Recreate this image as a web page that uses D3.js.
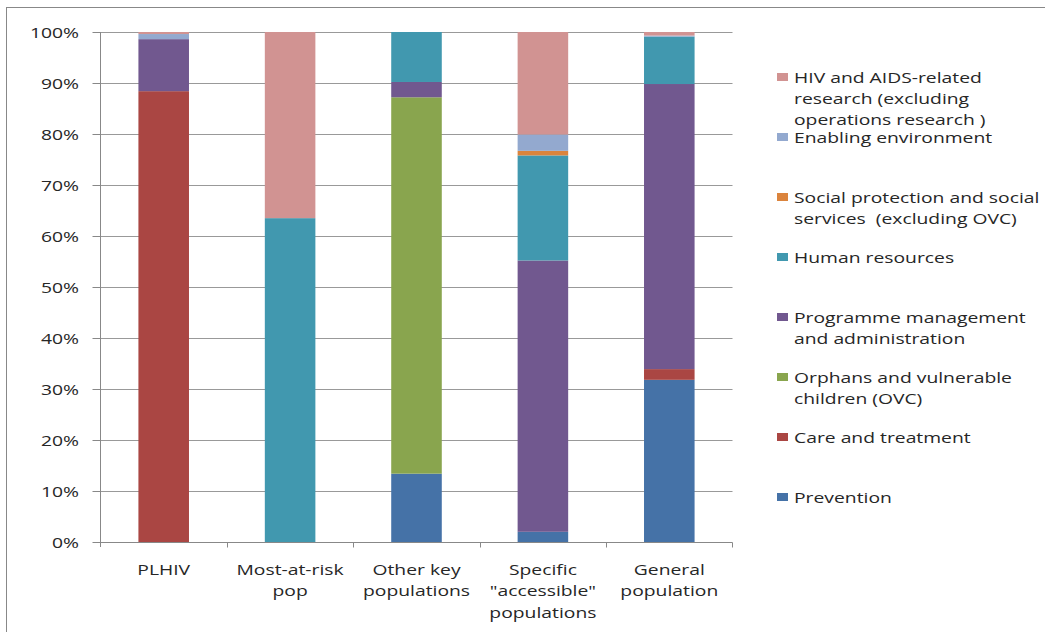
<!DOCTYPE html>
<html><head><meta charset="utf-8">
<script src="https://cdn.jsdelivr.net/npm/d3@7"></script>
<style>html,body{margin:0;padding:0;background:#fff;}svg{display:block;}text{white-space:pre;}</style>
</head><body>
<svg id="c" width="1045" height="632"></svg>
<script>
const categories = [["PLHIV"],["Most-at-risk","pop"],["Other key","populations"],["Specific","\"accessible\"","populations"],["General","population"]];
const catKeys = ["PLHIV","Most-at-risk pop","Other key populations","Specific accessible populations","General population"];
const seriesNames = ["Prevention","Care and treatment","Orphans and vulnerable children (OVC)","Programme management and administration","Human resources","Social protection and social services (excluding OVC)","Enabling environment","HIV and AIDS-related research (excluding operations research )"];
const prevention = [0, 0, 13.4, 2.0, 31.8];
const care = [88.4, 0, 0, 0, 2.1];
const ovc = [0, 0, 73.8, 0, 0];
const programme = [10.2, 0, 3.0, 53.2, 55.9];
const human = [0, 63.5, 9.8, 20.6, 9.3];
const social = [0, 0, 0, 0.9, 0];
const enabling = [1.0, 0, 0, 3.2, 0.2];
const research = [0.4, 36.5, 0, 20.1, 0.7];
const yTicks = [0,10,20,30,40,50,60,70,80,90,100];
const legendLines = [
  ["HIV and AIDS-related","research (excluding","operations research )"],
  ["Enabling environment"],
  ["Social protection and social","services  (excluding OVC)"],
  ["Human resources"],
  ["Programme management","and administration"],
  ["Orphans and vulnerable","children (OVC)"],
  ["Care and treatment"],
  ["Prevention"]
];
const colors = ["#4572A7","#AA4643","#89A54E","#71588F","#4198AF","#DB843D","#93A9CF","#D19392"];

const seriesVals = [prevention, care, ovc, programme, human, social, enabling, research];
const rows = catKeys.map((k,i)=>{const r={cat:k}; seriesNames.forEach((s,j)=>r[s]=seriesVals[j][i]); return r;});

const svg = d3.select("#c");
const FONT = "'Open Sans', sans-serif";
const FS = 15;
const textColor = "#262626";

// measure horizontal stretch factor
const probe = svg.append("text").attr("font-family",FONT).attr("font-size",FS).text("HIV and AIDS-related");
const sx = 188 / probe.node().getComputedTextLength();
probe.remove();

function txt(g, x, y, s, anchor){
  return g.append("text").attr("transform",`translate(${x},${y}) scale(${sx},1)`)
    .attr("font-family",FONT).attr("font-size",FS).attr("fill",textColor)
    .attr("text-anchor",anchor||"start").attr("dominant-baseline","central").text(s);
}

// outer border
svg.append("rect").attr("x",6.5).attr("y",7.5).attr("width",1100).attr("height",700)
  .attr("fill","none").attr("stroke","#888").attr("stroke-width",1);

const x = d3.scaleBand().domain(catKeys).range([100.5,732.5]).paddingInner(0.6).paddingOuter(0.3);
const y = d3.scaleLinear().domain([0,100]).range([542,32]);

// gridlines
svg.append("g").selectAll("line").data(yTicks.filter(d=>d>0)).join("line")
  .attr("x1",100.5).attr("x2",732.5).attr("y1",d=>Math.round(y(d))+0.5).attr("y2",d=>Math.round(y(d))+0.5)
  .attr("stroke","#999").attr("stroke-width",1);

// stacked bars
const stack = d3.stack().keys(seriesNames);
const stacked = stack(rows);
svg.append("g").selectAll("g").data(stacked).join("g").attr("fill",(d,i)=>colors[i])
  .selectAll("rect").data(d=>d).join("rect")
  .attr("x",d=>x(d.data.cat)).attr("width",x.bandwidth())
  .attr("y",d=>y(d[1])).attr("height",d=>Math.max(0,y(d[0])-y(d[1])));

// y axis
const yAxis = d3.axisLeft(y).tickValues(yTicks).tickSize(8).tickFormat("");
const ya = svg.append("g").attr("transform","translate(100.5,0)").call(yAxis);
ya.select(".domain").attr("stroke","#888").attr("d","M0,32V547");
ya.selectAll(".tick line").attr("stroke","#888");
yTicks.forEach(t=>txt(svg,79,y(t),t+"%","end"));

// x axis
const xa = svg.append("g").attr("transform","translate(0,542.5)");
xa.append("line").attr("x1",100.5).attr("x2",732.5).attr("stroke","#888");
const bounds = catKeys.map(k=>x(k)-x.step()*0.3).concat([x(catKeys[4])+x.bandwidth()+x.step()*0.3]);
xa.selectAll("line.t").data(bounds.slice(1)).join("line").attr("class","t")
  .attr("x1",d=>Math.round(d)+0.5).attr("x2",d=>Math.round(d)+0.5).attr("y1",0).attr("y2",5).attr("stroke","#888");
categories.forEach((lines,i)=>{
  const cx = x(catKeys[i]) + x.bandwidth()/2;
  lines.forEach((l,j)=>txt(svg,cx,569+j*21.7,l,"middle"));
});

// legend
const legendY = [77,137,197,257,317,377,437,497];
legendLines.forEach((lines,i)=>{
  const ci = 7 - i;
  svg.append("rect").attr("x",777).attr("y",legendY[i]-4).attr("width",11).attr("height",8).attr("fill",colors[ci]);
  lines.forEach((l,j)=>txt(svg,794,legendY[i]+j*21,l,"start"));
});
</script>
</body></html>
